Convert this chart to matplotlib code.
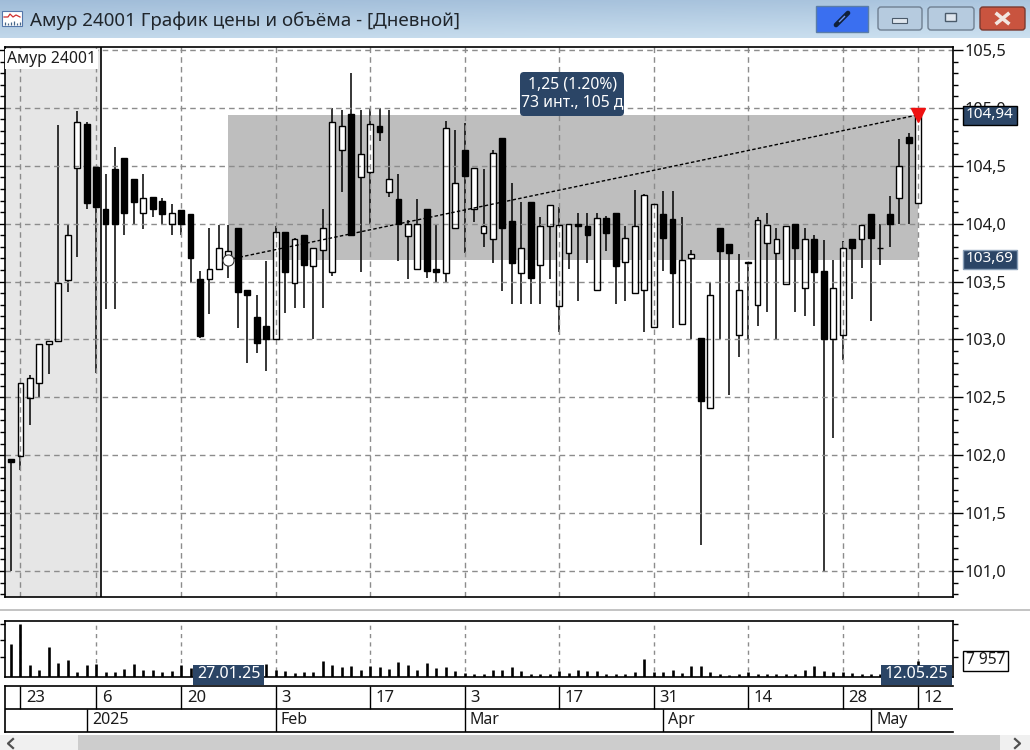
import numpy as np
import matplotlib
matplotlib.use("Agg")
import matplotlib.pyplot as plt
from matplotlib.patches import Rectangle, FancyBboxPatch
from matplotlib.ticker import FixedFormatter, FixedLocator, MultipleLocator

plt.rcParams['font.family'] = ['Noto Sans', 'DejaVu Sans']

# Daily candles
opens = [101.97, 101.99, 102.49, 102.62, 102.96, 102.99, 103.51, 104.48, 104.86, 104.49,
         104.13, 104.47, 104.57, 104.39, 104.09, 104.23, 104.20, 104.00, 104.12, 104.08,
         103.52, 103.52, 103.61, 103.69, 103.96, 103.43, 103.19, 103.12, 103.00, 103.93,
         103.49, 103.90, 103.63, 103.77, 103.58, 104.64, 104.95, 104.40, 104.45, 104.84,
         104.27, 104.21, 103.89, 103.61, 104.13, 103.61, 103.57, 103.96, 104.64, 104.13,
         103.92, 103.87, 104.74, 104.02, 103.57, 104.19, 103.64, 103.98, 103.29, 103.75,
         104.00, 103.98, 103.43, 104.05, 104.09, 103.67, 103.40, 103.43, 103.11, 104.08,
         104.04, 103.13, 103.70, 103.01, 102.41, 103.96, 103.82, 103.04, 103.67, 103.30,
         103.83, 103.75, 103.48, 104.00, 103.44, 103.87, 103.59, 103.00, 103.04, 103.87,
         103.87, 104.08, 103.79, 104.08, 104.22, 104.75, 104.18]
closes = [101.94, 102.62, 102.67, 102.96, 102.99, 103.49, 103.90, 104.88, 104.18, 104.14,
          104.00, 104.00, 104.09, 104.19, 104.22, 104.13, 104.08, 104.09, 104.00, 103.70,
          103.03, 103.61, 103.79, 103.76, 103.41, 103.38, 102.97, 103.00, 103.93, 103.58,
          103.87, 103.64, 103.79, 103.96, 104.88, 104.84, 103.90, 104.60, 104.86, 104.79,
          104.39, 104.00, 104.00, 104.00, 103.59, 103.58, 104.83, 104.35, 104.41, 104.48,
          103.98, 104.61, 103.96, 103.66, 103.79, 103.53, 103.98, 104.16, 103.99, 104.00,
          103.98, 103.90, 104.05, 103.92, 103.63, 103.88, 103.98, 104.25, 104.17, 103.88,
          103.57, 103.69, 103.74, 102.47, 103.38, 103.76, 103.75, 103.43, 103.66, 104.03,
          103.99, 103.87, 103.98, 103.79, 103.87, 103.58, 103.00, 103.44, 103.79, 103.79,
          103.99, 103.88, 103.79, 104.00, 104.50, 104.70, 104.94]
highs = [101.97, 102.62, 102.69, 102.96, 102.99, 104.85, 103.99, 104.97, 104.88, 104.49,
         104.43, 104.66, 104.57, 104.39, 104.43, 104.23, 104.22, 104.17, 104.12, 104.08,
         103.59, 103.96, 103.99, 103.99, 103.96, 103.43, 103.38, 103.68, 103.98, 103.93,
         103.88, 103.90, 103.79, 104.13, 105.00, 104.98, 105.30, 104.98, 105.00, 105.00,
         104.98, 104.43, 104.03, 104.21, 104.13, 104.00, 104.89, 104.81, 104.87, 104.48,
         104.47, 104.64, 104.74, 104.35, 104.19, 104.19, 104.06, 104.16, 104.14, 104.00,
         104.09, 104.09, 104.09, 104.07, 104.09, 103.98, 104.29, 104.26, 104.17, 104.28,
         104.28, 104.06, 103.77, 103.01, 103.49, 103.96, 103.82, 103.74, 103.67, 104.06,
         104.09, 103.96, 103.98, 104.00, 103.96, 103.90, 103.86, 103.69, 103.85, 103.87,
         103.99, 104.08, 104.00, 104.24, 104.73, 104.78, 104.99]
lows = [101.00, 101.87, 102.26, 102.50, 102.70, 102.99, 103.41, 103.71, 104.13, 102.71,
        103.26, 103.26, 103.90, 104.00, 103.95, 104.06, 104.00, 103.90, 103.90, 103.49,
        103.01, 103.22, 103.61, 103.53, 103.10, 102.80, 102.88, 102.73, 103.00, 103.23,
        103.27, 103.27, 103.00, 103.27, 103.55, 104.27, 103.90, 103.58, 104.00, 104.71,
        104.23, 103.68, 103.52, 103.60, 103.53, 103.49, 103.50, 103.96, 103.75, 104.01,
        103.80, 103.66, 103.42, 103.31, 103.31, 103.31, 103.31, 103.52, 103.06, 103.61,
        103.33, 103.66, 103.43, 103.76, 103.31, 103.33, 103.40, 103.06, 103.11, 103.59,
        103.10, 103.13, 103.00, 101.22, 102.41, 103.00, 102.52, 102.85, 103.00, 103.12,
        103.24, 103.00, 103.48, 103.24, 103.20, 103.12, 101.00, 102.15, 102.82, 103.35,
        103.62, 103.16, 103.64, 103.80, 104.00, 104.00, 104.18]
volumes = [16500, 27200, 5700, 3400, 15100, 7200, 8600, 2400, 5700, 6500,
           2400, 2400, 4100, 6400, 3400, 3100, 2200, 2800, 6000, 4300,
           5000, 4500, 4800, 5200, 4600, 4000, 5000, 6400, 3400, 2800,
           1700, 2400, 2400, 7900, 6000, 4800, 5500, 3400, 5500, 4800,
           4100, 7700, 6000, 3400, 7200, 4500, 4800, 2900, 1700, 1200,
           1500, 3100, 3400, 4800, 2800, 1400, 1400, 1400, 2600, 1700,
           3400, 2800, 2600, 1400, 1200, 1400, 2400, 8900, 2400, 2400,
           3100, 1700, 5200, 5200, 2100, 1200, 900, 1500, 2400, 1400,
           1400, 1400, 1400, 1500, 3100, 5200, 3000, 2400, 2100, 1700,
           1400, 1400, 1400, 1400, 1400, 1400, 7957]

price_ticks = [101.0, 101.5, 102.0, 102.5, 103.0, 103.5, 104.0, 104.5, 105.0, 105.5]
price_labels = ['101,0', '101,5', '102,0', '102,5', '103,0', '103,5', '104,0', '104,5', '105,0', '105,5']
volume_ticks = [10000, 18600, 27200]

day_ticks = [1, 9, 18, 28, 38, 48, 58, 68, 78, 88, 96]
day_labels = ['23', '6', '20', '3', '17', '3', '17', '31', '14', '28', '12']
month_ticks = [8, 28, 48, 69, 91]
month_labels = ['2025', 'Feb', 'Mar', 'Apr', 'May']

anchor = 23  # 27.01.25
last = 96    # 12.05.25
cursor = 9.5
range_low = 103.69
range_high = 104.94

W, H = 1030, 750
NAVY = '#2b4566'
INK = '#1c1c1c'
GRID = '#8c8c8c'
XLIM = (-0.635, 99.68)
DASH = (0, (4, 3))

x = np.arange(len(opens))
opens, closes = np.array(opens), np.array(closes)
highs, lows = np.array(highs), np.array(lows)


def px_axes(fig, left, top, right, bottom, **kw):
    return fig.add_axes([left / W, 1 - bottom / H, (right - left) / W, (bottom - top) / H], **kw)


fig = plt.figure(figsize=(W / 100, H / 100), dpi=100, facecolor='white')

# Window chrome behind everything, in pixel coordinates
chrome = px_axes(fig, 0, 0, W, H, zorder=0)
chrome.set_xlim(0, W)
chrome.set_ylim(H, 0)
chrome.axis('off')
col = np.linspace(0, 1, 200)
row = np.linspace(0, 1, 40)
mix = np.outer(row * 0.75, np.ones(200)) + np.outer(np.ones(40), col * 0.25)
c0, c1 = np.array([0.63, 0.74, 0.85]), np.array([0.80, 0.88, 0.94])
chrome.imshow(c0 + mix[..., None] * (c1 - c0), extent=(0, W, 38, 0), aspect='auto', zorder=0)
chrome.set_xlim(0, W)
chrome.set_ylim(H, 0)
chrome.text(30, 21, 'Амур 24001 График цены и объёма - [Дневной]', fontsize=13.5,
            color='#20262c', va='center', ha='left')
# title bar icon
chrome.add_patch(Rectangle((2, 11), 20, 15, fc='white', ec='#5577aa', lw=0.8, zorder=2))
chrome.plot([4, 8, 10, 13, 16, 20], [17, 17, 14, 17, 15, 17], color='#d03030', lw=0.9, zorder=3)
chrome.vlines([5, 8, 11, 14, 17, 20], 25, [22, 23, 22, 21, 23, 22], color='#446688', lw=0.9, zorder=3)
# title bar buttons
chrome.add_patch(Rectangle((816, 6), 52, 26, fc='#3a6ff0', ec='#5a7da8', lw=1, zorder=2))
chrome.plot([836, 848], [25, 13], color='#10203a', lw=3.4, solid_capstyle='round', zorder=3)
chrome.plot([839.5, 844.5], [21.5, 16.5], color='#6d93f0', lw=1.0, zorder=4)
for left, wid in [(878, 44), (928, 46)]:
    chrome.add_patch(FancyBboxPatch((left, 7), wid, 23, boxstyle='round,pad=0,rounding_size=3',
                                    fc='#b6cbdf', ec='#6f7f91', lw=1, zorder=2))
chrome.add_patch(Rectangle((892, 18), 15, 5, fc='#dfe6ee', ec='#4a5a6a', lw=0.8, zorder=3))
chrome.add_patch(Rectangle((945, 13), 11, 8, fc='#dfe6ee', ec='#4a5a6a', lw=1.0, zorder=3))
chrome.add_patch(FancyBboxPatch((980, 7), 45, 23, boxstyle='round,pad=0,rounding_size=3',
                                fc='#c9543f', ec='#7a3a30', lw=1, zorder=2))
chrome.plot([997, 1008], [14, 23], color='#f2e6e0', lw=2.6, zorder=3)
chrome.plot([997, 1008], [23, 14], color='#f2e6e0', lw=2.6, zorder=3)
# pane separator and scrollbar
chrome.add_patch(Rectangle((0, 609), W, 2, fc='#c4c4c4', ec='none', zorder=1))
chrome.add_patch(Rectangle((0, 735), W, 15, fc='#f0f0f0', ec='none', zorder=1))
chrome.add_patch(Rectangle((78, 735), 922, 15, fc='#cdcdcd', ec='none', zorder=2))
chrome.plot([13, 8, 13], [739, 743.5, 748], color='#505050', lw=1.6, zorder=3)
chrome.plot([1015, 1020, 1015], [739, 743.5, 748], color='#505050', lw=1.6, zorder=3)

# Price panel
ax = px_axes(fig, 5, 47, 953, 597, zorder=2)
ax.set_xlim(*XLIM)
ax.set_ylim(100.775, 105.526)
ax.axvspan(XLIM[0], cursor, color='#e6e6e6', lw=0, zorder=0.5)
ax.add_patch(Rectangle((anchor, range_low), last - anchor, range_high - range_low,
                       fc='#bebebe', ec='none', zorder=1))
ax.axvline(cursor, color='black', lw=1.2, zorder=4)

ax.vlines(x, lows, highs, color='black', lw=1.1, zorder=1.2)
up = closes >= opens
down = ~up
ax.bar(x[up], (closes - opens)[up], bottom=opens[up], width=0.62, fc='white', ec='none', zorder=1.5)
for v in day_ticks:
    ax.axvline(v, color=GRID, lw=1, ls=DASH, zorder=2)
for v in price_ticks:
    ax.axhline(v, color=GRID, lw=1, ls=DASH, zorder=2)
ax.bar(x[up], (closes - opens)[up], bottom=opens[up], width=0.62, fc='none', ec='black', lw=1.0, zorder=3)
ax.bar(x[down], (opens - closes)[down], bottom=closes[down], width=0.62, fc='black', ec='black', lw=1.0, zorder=3)

ax.plot([anchor, last], [range_low, range_high], color='black', lw=1.0, ls=(0, (2.5, 1.6)), zorder=4)
ax.plot(anchor, range_low, 'o', ms=8, mfc='white', mec='#333333', mew=0.8, zorder=5)
ax.plot(last, range_high, 'v', ms=10, mfc='#ee1111', mec='#ee1111', zorder=5)

ax.yaxis.set_major_locator(FixedLocator(price_ticks))
ax.yaxis.set_major_formatter(FixedFormatter(price_labels))
ax.yaxis.set_minor_locator(MultipleLocator(0.1))
ax.tick_params(axis='y', which='major', left=True, right=True, labelleft=False, labelright=True,
               length=7, width=1, pad=1.5, labelsize=11.8, labelcolor=INK)
ax.tick_params(axis='y', which='minor', left=True, right=True, length=3.6, width=1)
ax.set_xticks([])
for s in ax.spines.values():
    s.set_linewidth(1.2)

ax.text(XLIM[0] + 0.25, 105.49, 'Амур 24001', fontsize=11.3, color=INK, va='top', ha='left',
        bbox=dict(fc='white', ec='none', pad=1.5), zorder=6)

# Volume panel
vol = px_axes(fig, 5, 621, 953, 676.5, zorder=2)
vol.set_xlim(*XLIM)
vol.set_ylim(0, 28600)
for v in day_ticks:
    vol.axvline(v, ymin=0.1, ymax=0.93, color=GRID, lw=1, ls=(0, (3, 3)), zorder=1)
vol.vlines(x, 0, volumes, color='black', lw=1.9, zorder=3)
vol.set_xticks([])
vol.yaxis.set_major_locator(FixedLocator(volume_ticks))
vol.tick_params(axis='y', left=True, right=True, labelleft=False, length=3.6, width=1)
for s in vol.spines.values():
    s.set_linewidth(1.2)

# Date strip under the volumes
dates = px_axes(fig, 5, 686, 953, 732, zorder=2)
dates.set_xlim(*XLIM)
dates.set_ylim(2, 0)
dates.set_xticks([])
dates.set_yticks([])
dates.spines['right'].set_visible(False)
dates.axhline(1, color='black', lw=1.2)
dates.vlines(day_ticks, 0, 1, color='black', lw=1.0)
dates.vlines(month_ticks, 1, 2, color='black', lw=1.0)
for v, t in zip(day_ticks, day_labels):
    dates.text(v + 0.6, 0.5, t, fontsize=12, color=INK, va='center', ha='left')
for v, t in zip(month_ticks, month_labels):
    dates.text(v + 0.55, 1.5, t, fontsize=11.5, color=INK, va='center', ha='left')
for s in dates.spines.values():
    s.set_linewidth(1.2)

# Tags on top of everything
tags = px_axes(fig, 0, 0, W, H, zorder=5)
tags.set_xlim(0, W)
tags.set_ylim(H, 0)
tags.axis('off')
tags.patch.set_alpha(0)


def tag(left, top, right, bottom, text, size=11, fc=NAVY, color='white', ec='none', rounded=False, spacing=1.0):
    if rounded:
        tags.add_patch(FancyBboxPatch((left, top), right - left, bottom - top,
                                      boxstyle='round,pad=0,rounding_size=4', fc=fc, ec=ec))
    else:
        tags.add_patch(Rectangle((left, top), right - left, bottom - top, fc=fc, ec=ec, lw=1))
    tags.text((left + right) / 2, (top + bottom) / 2 - 0.5, text, color=color, fontsize=size,
              ha='center', va='center', linespacing=spacing)


tag(520, 72, 624, 116, '1,25 (1.20%)\n73 инт., 105 д', size=11.3, rounded=True, spacing=1.2)
tag(963, 106, 1017, 125, '104,94', ec='black')
tag(963, 250, 1017, 269, '103,69', ec='#8aa0b8')
tag(963, 651, 1008, 671, '7 957', size=11.2, fc='white', color=INK, ec='black')
tag(193, 665, 264, 685, '27.01.25', size=11.5)
tag(881, 665, 952, 685, '12.05.25', size=11.5)

fig.savefig('out.png', dpi=100)
